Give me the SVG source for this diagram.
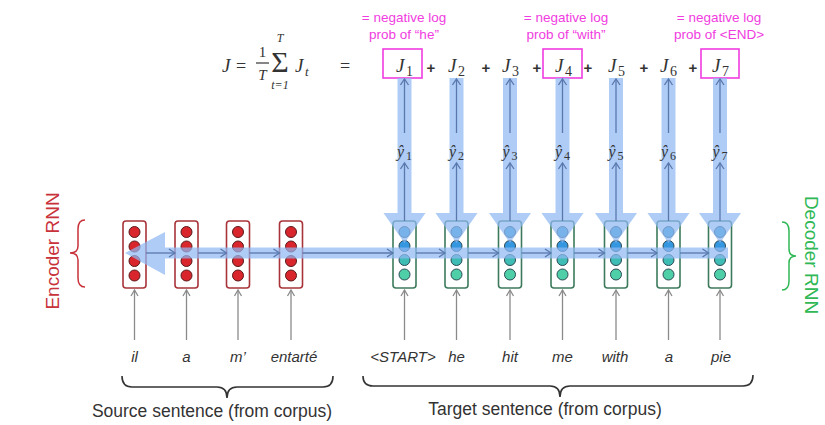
<svg xmlns="http://www.w3.org/2000/svg" width="825" height="425" viewBox="0 0 825 425">
<style>
.band{fill:#8fb8f2;opacity:0.72}
.thin{stroke:#5a78ad;stroke-width:1.3;fill:none}
.inp{stroke:#8a8a8a;stroke-width:1.3;fill:none}
.encbox{fill:#fff;stroke:#a8343a;stroke-width:1.6}
.decbox{fill:#fff;stroke:#3d7a5c;stroke-width:1.6}
.enc{fill:#d8262c;stroke:#5a1a1a;stroke-width:1}
.c1{fill:#3aa5d4;stroke:#2b4a55;stroke-width:1}
.c2{fill:#3597e0;stroke:#2b4a55;stroke-width:1}
.c3{fill:#3fbcb4;stroke:#2b4a55;stroke-width:1}
.c4{fill:#4fcfa8;stroke:#2b4a55;stroke-width:1}
.math{font-family:"Liberation Serif",serif;font-style:italic;fill:#333}
.mathr{font-family:"Liberation Serif",serif;fill:#333}
.plus{font-family:"Liberation Sans",sans-serif;font-size:15px;font-weight:bold;fill:#333;text-anchor:middle}
.pink{font-family:"Liberation Sans",sans-serif;font-size:13.5px;fill:#f03ce0;text-anchor:middle}
.jbox{fill:none;stroke:#f03ce0;stroke-width:1.6}
.word{font-family:"Liberation Sans",sans-serif;font-style:italic;font-size:15px;fill:#333;text-anchor:middle}
.lbl{font-family:"Liberation Sans",sans-serif;font-size:17.5px;fill:#333;text-anchor:middle}
.brace{fill:none;stroke:#333;stroke-width:1.6}
</style>
<defs>
<marker id="chev" markerWidth="10" markerHeight="10" refX="7" refY="5" orient="auto" markerUnits="userSpaceOnUse">
<path d="M1,1 L7,5 L1,9" fill="none" stroke="#5a78ad" stroke-width="1.3"/>
</marker>
<marker id="gchev" markerWidth="10" markerHeight="10" refX="7" refY="5" orient="auto" markerUnits="userSpaceOnUse">
<path d="M1,1.5 L7,5 L1,8.5" fill="none" stroke="#8a8a8a" stroke-width="1.3"/>
</marker>
</defs>

<!-- formula -->
<g id="formula">
<text class="math" x="222" y="72" font-size="19">J</text>
<text class="mathr" x="236" y="72" font-size="18">=</text>
<text class="mathr" x="262.5" y="57" font-size="15" text-anchor="middle">1</text>
<line x1="256" y1="63" x2="269" y2="63" stroke="#333" stroke-width="1.2"/>
<text class="math" x="262.5" y="80" font-size="15" text-anchor="middle">T</text>
<text class="mathr" x="280" y="72" font-size="30" text-anchor="middle">Σ</text>
<text class="math" x="280" y="42" font-size="12" text-anchor="middle">T</text>
<text class="math" x="280" y="89" font-size="12" text-anchor="middle">t=1</text>
<text class="math" x="295" y="72" font-size="19">J</text>
<text class="math" x="305" y="76" font-size="13">t</text>
<text class="mathr" x="340" y="72" font-size="18">=</text>
</g>

<!-- pink annotations -->
<g id="note1"><text class="pink" x="404" y="22">= negative log</text><text class="pink" x="404" y="39">prob of “he”</text></g>
<g id="note4"><text class="pink" x="566" y="22">= negative log</text><text class="pink" x="566" y="39">prob of “with”</text></g>
<g id="note7"><text class="pink" x="719" y="22">= negative log</text><text class="pink" x="719" y="39">prob of &lt;END&gt;</text></g>

<!-- J terms -->
<g id="jterms">
<rect class="jbox" x="383" y="49" width="39" height="29"/>
<rect class="jbox" x="543" y="49" width="39" height="29"/>
<rect class="jbox" x="701" y="49" width="38" height="29"/>
<g class="math" font-size="19">
<text x="396" y="72">J</text><text x="448" y="72">J</text><text x="502" y="72">J</text><text x="555" y="72">J</text><text x="608" y="72">J</text><text x="660" y="72">J</text><text x="712" y="72">J</text>
</g>
<g class="mathr" font-size="14">
<text x="406" y="76">1</text><text x="458" y="76">2</text><text x="512" y="76">3</text><text x="565" y="76">4</text><text x="618" y="76">5</text><text x="670" y="76">6</text><text x="722" y="76">7</text>
</g>
<text class="plus" x="431" y="73">+</text>
<text class="plus" x="486" y="73">+</text>
<text class="plus" x="537" y="73">+</text>
<text class="plus" x="588" y="73">+</text>
<text class="plus" x="644" y="73">+</text>
<text class="plus" x="693" y="73">+</text>
</g>

<!-- encoder nodes -->
<g id="enc1"><rect class="encbox" x="123" y="221" width="23" height="67" rx="3"/><circle class="enc" cx="134.5" cy="232" r="5.5"/><circle class="enc" cx="134.5" cy="246.5" r="5.5"/><circle class="enc" cx="134.5" cy="261" r="5.5"/><circle class="enc" cx="134.5" cy="275.5" r="5.5"/></g>
<g id="enc2"><rect class="encbox" x="175" y="221" width="23" height="67" rx="3"/><circle class="enc" cx="186.5" cy="232" r="5.5"/><circle class="enc" cx="186.5" cy="246.5" r="5.5"/><circle class="enc" cx="186.5" cy="261" r="5.5"/><circle class="enc" cx="186.5" cy="275.5" r="5.5"/></g>
<g id="enc3"><rect class="encbox" x="226.5" y="221" width="23" height="67" rx="3"/><circle class="enc" cx="238" cy="232" r="5.5"/><circle class="enc" cx="238" cy="246.5" r="5.5"/><circle class="enc" cx="238" cy="261" r="5.5"/><circle class="enc" cx="238" cy="275.5" r="5.5"/></g>
<g id="enc4"><rect class="encbox" x="279.5" y="221" width="23" height="67" rx="3"/><circle class="enc" cx="291" cy="232" r="5.5"/><circle class="enc" cx="291" cy="246.5" r="5.5"/><circle class="enc" cx="291" cy="261" r="5.5"/><circle class="enc" cx="291" cy="275.5" r="5.5"/></g>

<!-- decoder nodes -->
<g id="dec1"><rect class="decbox" x="393" y="221" width="23" height="67" rx="3"/><circle class="c1" cx="404.5" cy="232" r="5.5"/><circle class="c2" cx="404.5" cy="246" r="5.5"/><circle class="c3" cx="404.5" cy="260" r="5.5"/><circle class="c4" cx="404.5" cy="274.5" r="5.5"/></g>
<g id="dec2"><rect class="decbox" x="445" y="221" width="23" height="67" rx="3"/><circle class="c1" cx="456.5" cy="232" r="5.5"/><circle class="c2" cx="456.5" cy="246" r="5.5"/><circle class="c3" cx="456.5" cy="260" r="5.5"/><circle class="c4" cx="456.5" cy="274.5" r="5.5"/></g>
<g id="dec3"><rect class="decbox" x="498.5" y="221" width="23" height="67" rx="3"/><circle class="c1" cx="510" cy="232" r="5.5"/><circle class="c2" cx="510" cy="246" r="5.5"/><circle class="c3" cx="510" cy="260" r="5.5"/><circle class="c4" cx="510" cy="274.5" r="5.5"/></g>
<g id="dec4"><rect class="decbox" x="551" y="221" width="23" height="67" rx="3"/><circle class="c1" cx="562.5" cy="232" r="5.5"/><circle class="c2" cx="562.5" cy="246" r="5.5"/><circle class="c3" cx="562.5" cy="260" r="5.5"/><circle class="c4" cx="562.5" cy="274.5" r="5.5"/></g>
<g id="dec5"><rect class="decbox" x="604.5" y="221" width="23" height="67" rx="3"/><circle class="c1" cx="616" cy="232" r="5.5"/><circle class="c2" cx="616" cy="246" r="5.5"/><circle class="c3" cx="616" cy="260" r="5.5"/><circle class="c4" cx="616" cy="274.5" r="5.5"/></g>
<g id="dec6"><rect class="decbox" x="657" y="221" width="23" height="67" rx="3"/><circle class="c1" cx="668.5" cy="232" r="5.5"/><circle class="c2" cx="668.5" cy="246" r="5.5"/><circle class="c3" cx="668.5" cy="260" r="5.5"/><circle class="c4" cx="668.5" cy="274.5" r="5.5"/></g>
<g id="dec7"><rect class="decbox" x="708.5" y="221" width="23" height="67" rx="3"/><circle class="c1" cx="720" cy="232" r="5.5"/><circle class="c2" cx="720" cy="246" r="5.5"/><circle class="c3" cx="720" cy="260" r="5.5"/><circle class="c4" cx="720" cy="274.5" r="5.5"/></g>

<!-- gradient bands -->
<g id="bands">
<path class="band" d="M125,253 L165,232 L165,247.5 L728,247.5 L728,258.5 L165,258.5 L165,275 Z"/>
<path class="band" d="M397.5,78 L411.5,78 L411.5,213 L425.5,213 L404.5,243 L383.5,213 L397.5,213 Z"/>
<path class="band" d="M449.5,78 L463.5,78 L463.5,213 L477.5,213 L456.5,243 L435.5,213 L449.5,213 Z"/>
<path class="band" d="M503,78 L517,78 L517,213 L531,213 L510,243 L489,213 L503,213 Z"/>
<path class="band" d="M555.5,78 L569.5,78 L569.5,213 L583.5,213 L562.5,243 L541.5,213 L555.5,213 Z"/>
<path class="band" d="M609,78 L623,78 L623,213 L637,213 L616,243 L595,213 L609,213 Z"/>
<path class="band" d="M661.5,78 L675.5,78 L675.5,213 L689.5,213 L668.5,243 L647.5,213 L661.5,213 Z"/>
<path class="band" d="M713,78 L727,78 L727,213 L741,213 L720,243 L699,213 L713,213 Z"/>
</g>

<!-- connectors -->
<g id="connectors">
<g class="thin">
<line x1="146" y1="253" x2="175" y2="253" marker-end="url(#chev)"/>
<line x1="198" y1="253" x2="226.5" y2="253" marker-end="url(#chev)"/>
<line x1="249.5" y1="253" x2="279.5" y2="253" marker-end="url(#chev)"/>
<line x1="302.5" y1="253" x2="393" y2="253" marker-end="url(#chev)"/>
<line x1="416" y1="253" x2="445" y2="253" marker-end="url(#chev)"/>
<line x1="468" y1="253" x2="498.5" y2="253" marker-end="url(#chev)"/>
<line x1="521.5" y1="253" x2="551" y2="253" marker-end="url(#chev)"/>
<line x1="574" y1="253" x2="604.5" y2="253" marker-end="url(#chev)"/>
<line x1="627.5" y1="253" x2="657" y2="253" marker-end="url(#chev)"/>
<line x1="680" y1="253" x2="708.5" y2="253" marker-end="url(#chev)"/>

<line x1="404.5" y1="221" x2="404.5" y2="163" marker-end="url(#chev)"/>
<line x1="456.5" y1="221" x2="456.5" y2="163" marker-end="url(#chev)"/>
<line x1="510" y1="221" x2="510" y2="163" marker-end="url(#chev)"/>
<line x1="562.5" y1="221" x2="562.5" y2="163" marker-end="url(#chev)"/>
<line x1="616" y1="221" x2="616" y2="163" marker-end="url(#chev)"/>
<line x1="668.5" y1="221" x2="668.5" y2="163" marker-end="url(#chev)"/>
<line x1="720" y1="221" x2="720" y2="163" marker-end="url(#chev)"/>

<line x1="404.5" y1="133" x2="404.5" y2="79" marker-end="url(#chev)"/>
<line x1="456.5" y1="133" x2="456.5" y2="79" marker-end="url(#chev)"/>
<line x1="510" y1="133" x2="510" y2="79" marker-end="url(#chev)"/>
<line x1="562.5" y1="133" x2="562.5" y2="79" marker-end="url(#chev)"/>
<line x1="616" y1="133" x2="616" y2="79" marker-end="url(#chev)"/>
<line x1="668.5" y1="133" x2="668.5" y2="79" marker-end="url(#chev)"/>
<line x1="720" y1="133" x2="720" y2="79" marker-end="url(#chev)"/>
</g>
<g class="inp">
<line x1="134.5" y1="340" x2="134.5" y2="290" marker-end="url(#gchev)"/>
<line x1="186.5" y1="340" x2="186.5" y2="290" marker-end="url(#gchev)"/>
<line x1="238" y1="340" x2="238" y2="290" marker-end="url(#gchev)"/>
<line x1="291" y1="340" x2="291" y2="290" marker-end="url(#gchev)"/>
<line x1="404.5" y1="340" x2="404.5" y2="290" marker-end="url(#gchev)"/>
<line x1="456.5" y1="340" x2="456.5" y2="290" marker-end="url(#gchev)"/>
<line x1="510" y1="340" x2="510" y2="290" marker-end="url(#gchev)"/>
<line x1="562.5" y1="340" x2="562.5" y2="290" marker-end="url(#gchev)"/>
<line x1="616" y1="340" x2="616" y2="290" marker-end="url(#gchev)"/>
<line x1="668.5" y1="340" x2="668.5" y2="290" marker-end="url(#gchev)"/>
<line x1="720" y1="340" x2="720" y2="290" marker-end="url(#gchev)"/>
</g>
</g>

<!-- y-hat labels -->
<g id="yhats" class="math" font-size="16">
<text x="397" y="157">ŷ</text><text x="449" y="157">ŷ</text><text x="502.5" y="157">ŷ</text><text x="555" y="157">ŷ</text><text x="608.5" y="157">ŷ</text><text x="661" y="157">ŷ</text><text x="712.5" y="157">ŷ</text>
</g>
<g class="mathr" font-size="12">
<text x="406" y="160">1</text><text x="458" y="160">2</text><text x="511.5" y="160">3</text><text x="564" y="160">4</text><text x="617.5" y="160">5</text><text x="670" y="160">6</text><text x="721.5" y="160">7</text>
</g>

<!-- words -->
<g id="words">
<text class="word" x="134.5" y="362">il</text>
<text class="word" x="186.5" y="362">a</text>
<text class="word" x="238" y="362">m’</text>
<text class="word" x="294" y="362">entarté</text>
<text class="word" x="403" y="362">&lt;START&gt;</text>
<text class="word" x="456.5" y="362">he</text>
<text class="word" x="510" y="362">hit</text>
<text class="word" x="562.5" y="362">me</text>
<text class="word" x="615" y="362">with</text>
<text class="word" x="669" y="362">a</text>
<text class="word" x="721" y="362">pie</text>
</g>

<!-- braces -->
<g id="source">
<path class="brace" d="M122,376 Q122,387 132,387 L217,387 Q227,387 227,398 Q227,387 237,387 L323,387 Q333,387 333,376"/>
<text class="lbl" x="212" y="417">Source sentence (from corpus)</text>
</g>
<g id="target">
<path class="brace" d="M363,376 Q363,386 373,386 L550,386 Q560,386 560,397 Q560,386 570,386 L743,386 Q753,386 753,375"/>
<text class="lbl" x="545" y="415">Target sentence (from corpus)</text>
</g>
<g id="encoderlabel">
<path fill="none" stroke="#c8323a" stroke-width="1.5" d="M85,220 Q78,220 78,229 L78,246 Q78,253 70,253 Q78,253 78,260 L78,278 Q78,287 85,287"/>
<text transform="translate(59,251) rotate(-90)" font-family="Liberation Sans, sans-serif" font-size="19" fill="#c8323a" text-anchor="middle">Encoder RNN</text>
</g>
<g id="decoderlabel">
<path fill="none" stroke="#2fb855" stroke-width="1.5" d="M782,222 Q789,222 789,231 L789,249 Q789,256 796,256 Q789,256 789,263 L789,281 Q789,290 782,290"/>
<text transform="translate(805,255) rotate(90)" font-family="Liberation Sans, sans-serif" font-size="19" fill="#2fb855" text-anchor="middle">Decoder RNN</text>
</g>
</svg>
